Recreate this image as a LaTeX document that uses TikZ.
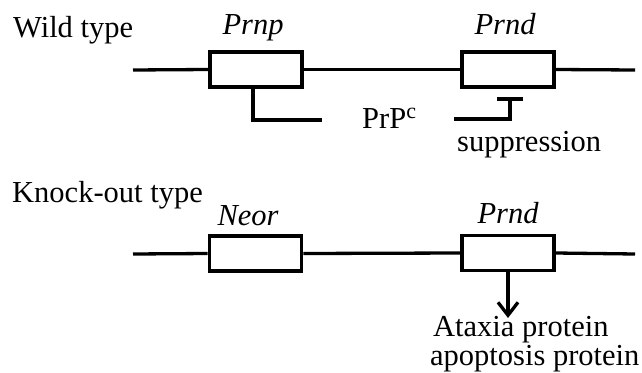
\documentclass[tikz,border=0pt]{standalone}
\usepackage{fontspec}
\setmainfont{Liberation Serif}
\usetikzlibrary{arrows.meta}
\begin{document}
\begin{tikzpicture}[x=1pt,y=-1pt,
  txt/.style={inner sep=0pt,font=\fontsize{30.5}{25}\selectfont},
  gene/.style={draw,line width=3.6pt,minimum width=92pt,minimum height=35pt,inner sep=0pt},
  dna/.style={line width=3.3pt},
  link/.style={line width=3.3pt}]
\useasboundingbox (0,0) rectangle (642,372);
% Wild type
\node[txt,anchor=base west] (wt) at (13,37) {Wild type};
\node[gene] (p1) at (256,69.5) {};
\node[gene] (p2) at (508,69.5) {};
\node[txt,anchor=base] (l1) at (253,34) {\itshape Prnp};
\node[txt,anchor=base] (l2) at (505,34) {\itshape Prnd};
\coordinate (a0) at (133,70);
\coordinate (a1) at (635,70);
\draw[dna] (a0) -- (p1.west);
\draw[dna] (p1.east) -- (p2.west);
\draw[dna] (p2.east) -- (a1);
\coordinate (prpEnd) at (322,120);
\draw[link] ([xshift=-3pt]p1.south) |- (prpEnd);
\node[txt,anchor=base west] (prp) at (362,128) {PrP\raisebox{10pt}{\fontsize{22}{22}\selectfont c}};
\coordinate (sA) at (454,119);
\coordinate (sT) at (510,99);
\coordinate (sL) at (497,99);
\coordinate (sR) at (523,99);
\draw[link] (sA) -| (sT);
\draw[link] (sL) -- (sR);
\node[txt,anchor=base west] (sup) at (457,151) {suppression};
% Knock-out type
\node[txt,anchor=base west] (ko) at (12,202) {Knock-out type};
\node[gene] (k1) at (255.5,253.5) {};
\node[gene] (k2) at (508,253) {};
\node[txt,anchor=base] (l3) at (248,225) {\itshape Neor};
\node[txt,anchor=base] (l4) at (508,223) {\itshape Prnd};
\coordinate (b0) at (133,254);
\coordinate (b1) at (635,254);
\draw[dna] (b0) -- (k1.west);
\draw[dna] (k1.east) -- (k2.west);
\draw[dna] (k2.east) -- (b1);
\coordinate (arrEnd) at (508,318);
\draw[link,-{Straight Barb[length=13pt,width=20pt]}] (k2.south) -- (arrEnd);
\node[txt,anchor=base west] (ax) at (433,336) {Ataxia protein};
\node[txt,anchor=base west] (ap) at (430,365) {apoptosis protein};
\end{tikzpicture}
\end{document}
